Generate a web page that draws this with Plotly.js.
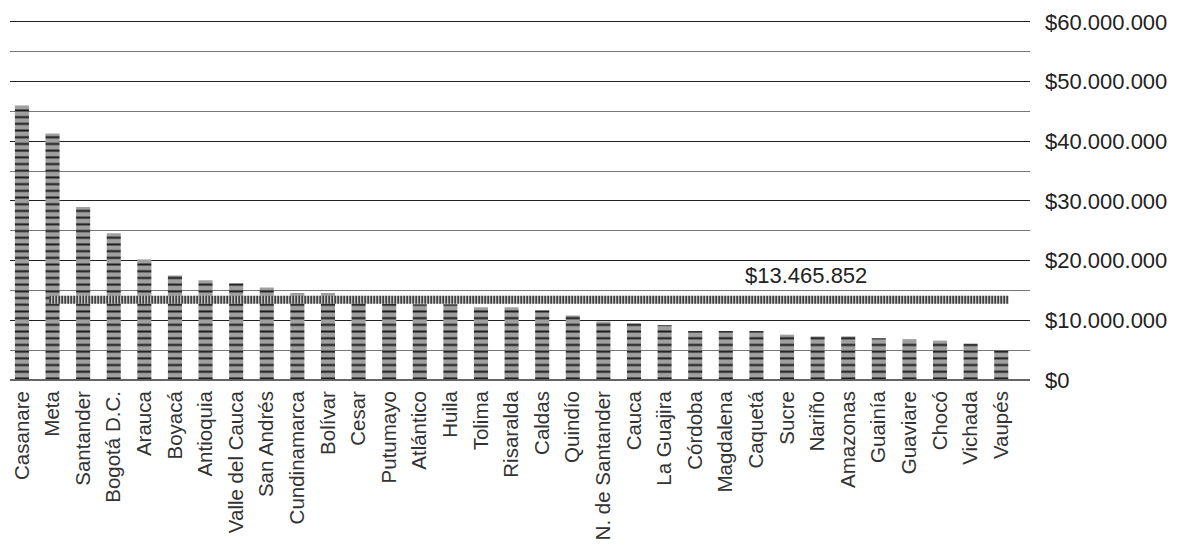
<!DOCTYPE html>
<html>
<head>
<meta charset="utf-8">
<script src="https://cdn.plot.ly/plotly-3.0.1.min.js"></script>
<style>html,body{margin:0;padding:0;background:#fff;}#chart{width:1178px;height:546px;}</style>
</head>
<body>
<div id="chart"></div>
<script>
const departamentos = ["Casanare","Meta","Santander","Bogotá D.C.","Arauca","Boyacá","Antioquia","Valle del Cauca","San Andrés","Cundinamarca","Bolívar","Cesar","Putumayo","Atlántico","Huila","Tolima","Risaralda","Caldas","Quindío","N. de Santander","Cauca","La Guajira","Córdoba","Magdalena","Caquetá","Sucre","Nariño","Amazonas","Guainía","Guaviare","Chocó","Vichada","Vaupés"];
const valores = [46000000,41300000,29000000,24600000,20200000,17500000,16700000,16200000,15500000,14600000,14600000,12900000,12800000,12700000,12700000,12200000,12200000,11700000,10800000,9800000,9500000,9200000,8200000,8200000,8200000,7600000,7300000,7300000,7000000,6800000,6600000,6100000,5000000];
const promedio = 13465852;
const promedioTexto = "$13.465.852";
const yTickVals = [0,10000000,20000000,30000000,40000000,50000000,60000000];
const yTickText = ["$0","$10.000.000","$20.000.000","$30.000.000","$40.000.000","$50.000.000","$60.000.000"];

const fontFam = '"Liberation Sans", Arial, Helvetica, sans-serif';

const trace = {
  type: 'bar',
  x: departamentos,
  y: valores,
  width: 0.46,
  marker: {
    color: '#a0a0a0',
    line: {width: 0},
    pattern: {shape: '-', bgcolor: '#a0a0a0', fgcolor: '#1c1c1c', size: 6.7, solidity: 0.3, fillmode: 'replace'}
  },
  hoverinfo: 'x+y'
};

const layout = {
  width: 1178, height: 546,
  margin: {l: 10, r: 148, t: 20, b: 166},
  paper_bgcolor: '#fff', plot_bgcolor: '#fff',
  separators: ',.',
  showlegend: false,
  font: {family: fontFam, color: '#222'},
  xaxis: {
    type: 'category',
    range: [-0.39, 32.94],
    tickangle: -90,
    tickfont: {size: 20.5, color: '#333', family: fontFam},
    showgrid: false, zeroline: false, showline: false,
    ticks: '', ticklabelstandoff: 6,
    automargin: false, fixedrange: true
  },
  yaxis: {
    side: 'right',
    range: [0, 60330000],
    tickvals: yTickVals,
    ticktext: yTickText,
    tickfont: {size: 22, color: '#222', family: fontFam},
    showgrid: true, gridcolor: '#222', gridwidth: 1,
    minor: {dtick: 5000000, tick0: 0, showgrid: true, gridcolor: '#777', gridwidth: 1},
    zeroline: true, zerolinecolor: '#666', zerolinewidth: 1.5,
    showline: false, ticks: '',
    ticklabelstandoff: 14,
    automargin: false, fixedrange: true
  },
  shapes: [
    {type: 'line', xref: 'x', yref: 'y', x0: 0.9, x1: 32.25, y0: promedio, y1: promedio, layer: 'above',
     line: {color: '#c4c4c4', width: 8}},
    {type: 'line', xref: 'x', yref: 'y', x0: 0.9, x1: 32.25, y0: promedio, y1: promedio, layer: 'above',
     line: {color: '#1c1c1c', width: 8, dash: '1.3px,1.7px'}}
  ],
  annotations: [
    {xref: 'paper', yref: 'y', x: 0.7186, y: promedio, xanchor: 'left', yanchor: 'middle', yshift: 24,
     text: promedioTexto, showarrow: false, font: {size: 22, color: '#222', family: fontFam}}
  ]
};

Plotly.newPlot('chart', [trace], layout, {displayModeBar: false, staticPlot: true});
</script>
</body>
</html>
